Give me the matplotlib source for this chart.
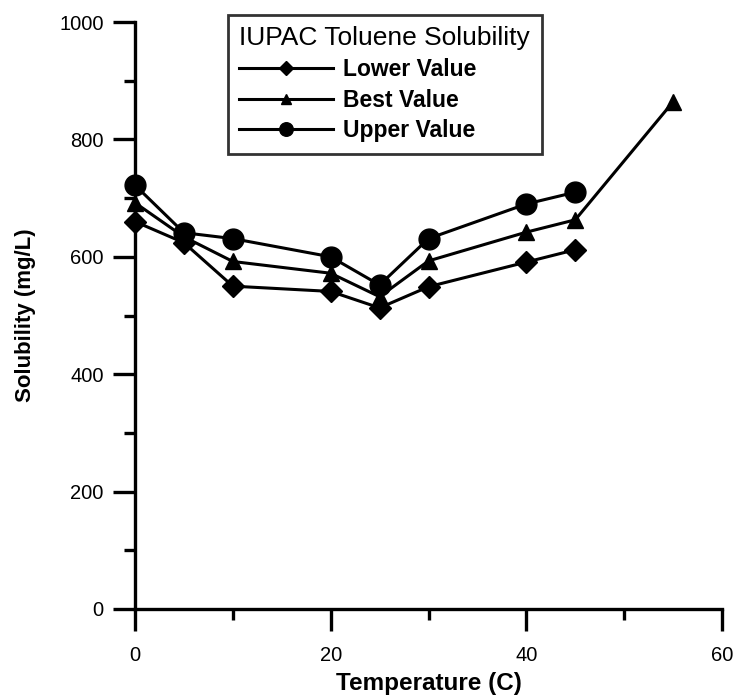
import numpy as np
import matplotlib.pyplot as plt
from matplotlib.ticker import MultipleLocator

plt.rcParams['font.family'] = ['Liberation Sans', 'DejaVu Sans']

# datos
temp = [0, 5, 10, 20, 25, 30, 40, 45]
temp_best = [0, 5, 10, 20, 25, 30, 40, 45, 55]
lower = [660, 624, 550, 541, 513, 549, 591, 612]
best = [692, 634, 592, 572, 532, 593, 642, 663, 864]
upper = [722, 641, 631, 600, 552, 631, 690, 710]

fig = plt.figure(figsize=(7.36, 6.96), dpi=100)
ax = fig.add_axes([135/736, 87/696, 587/736, 587/696])

ax.plot(temp, lower, color='black', lw=2.2, marker='D', ms=11, label='Lower Value', clip_on=False, zorder=3)
ax.plot(temp_best, best, color='black', lw=2.2, marker='^', ms=12, label='Best Value', clip_on=False, zorder=3)
ax.plot(temp, upper, color='black', lw=2.2, marker='o', ms=15, label='Upper Value', clip_on=False, zorder=3)

ax.set_xlim(0, 60)
ax.set_ylim(0, 1000)
ax.xaxis.set_major_locator(MultipleLocator(20))
ax.xaxis.set_minor_locator(MultipleLocator(10))
ax.yaxis.set_major_locator(MultipleLocator(200))
ax.yaxis.set_minor_locator(MultipleLocator(100))

for lado in ['top', 'right']:
    ax.spines[lado].set_visible(False)
for lado in ['left', 'bottom']:
    ax.spines[lado].set_linewidth(2.4)

ax.tick_params(which='major', direction='out', length=15.5, width=2.4, labelsize=14.5)
ax.tick_params(axis='x', which='major', pad=11)
ax.tick_params(axis='y', which='major', pad=7)
ax.tick_params(which='minor', direction='out', length=8, width=2.4)

ax.set_xlabel('Temperature (C)', fontsize=17.5, fontweight='bold', labelpad=5)
ax.set_ylabel('Solubility (mg/L)', fontsize=16, fontweight='bold', labelpad=17)

leg = ax.legend(title='IUPAC Toluene Solubility', loc='upper left',
                bbox_to_anchor=((228-135)/587, 1 + 7/587), borderaxespad=0,
                frameon=True, fancybox=False, edgecolor='black', fontsize=16.5,
                title_fontsize=19, handlelength=4.1, markerscale=0.65,
                borderpad=0.5, labelspacing=0.33, handletextpad=0.4)
leg._legend_box.align = 'left'
leg.get_frame().set_linewidth(2)
for t in leg.get_texts():
    t.set_fontweight('bold')

fig.savefig('out.png', dpi=100)
